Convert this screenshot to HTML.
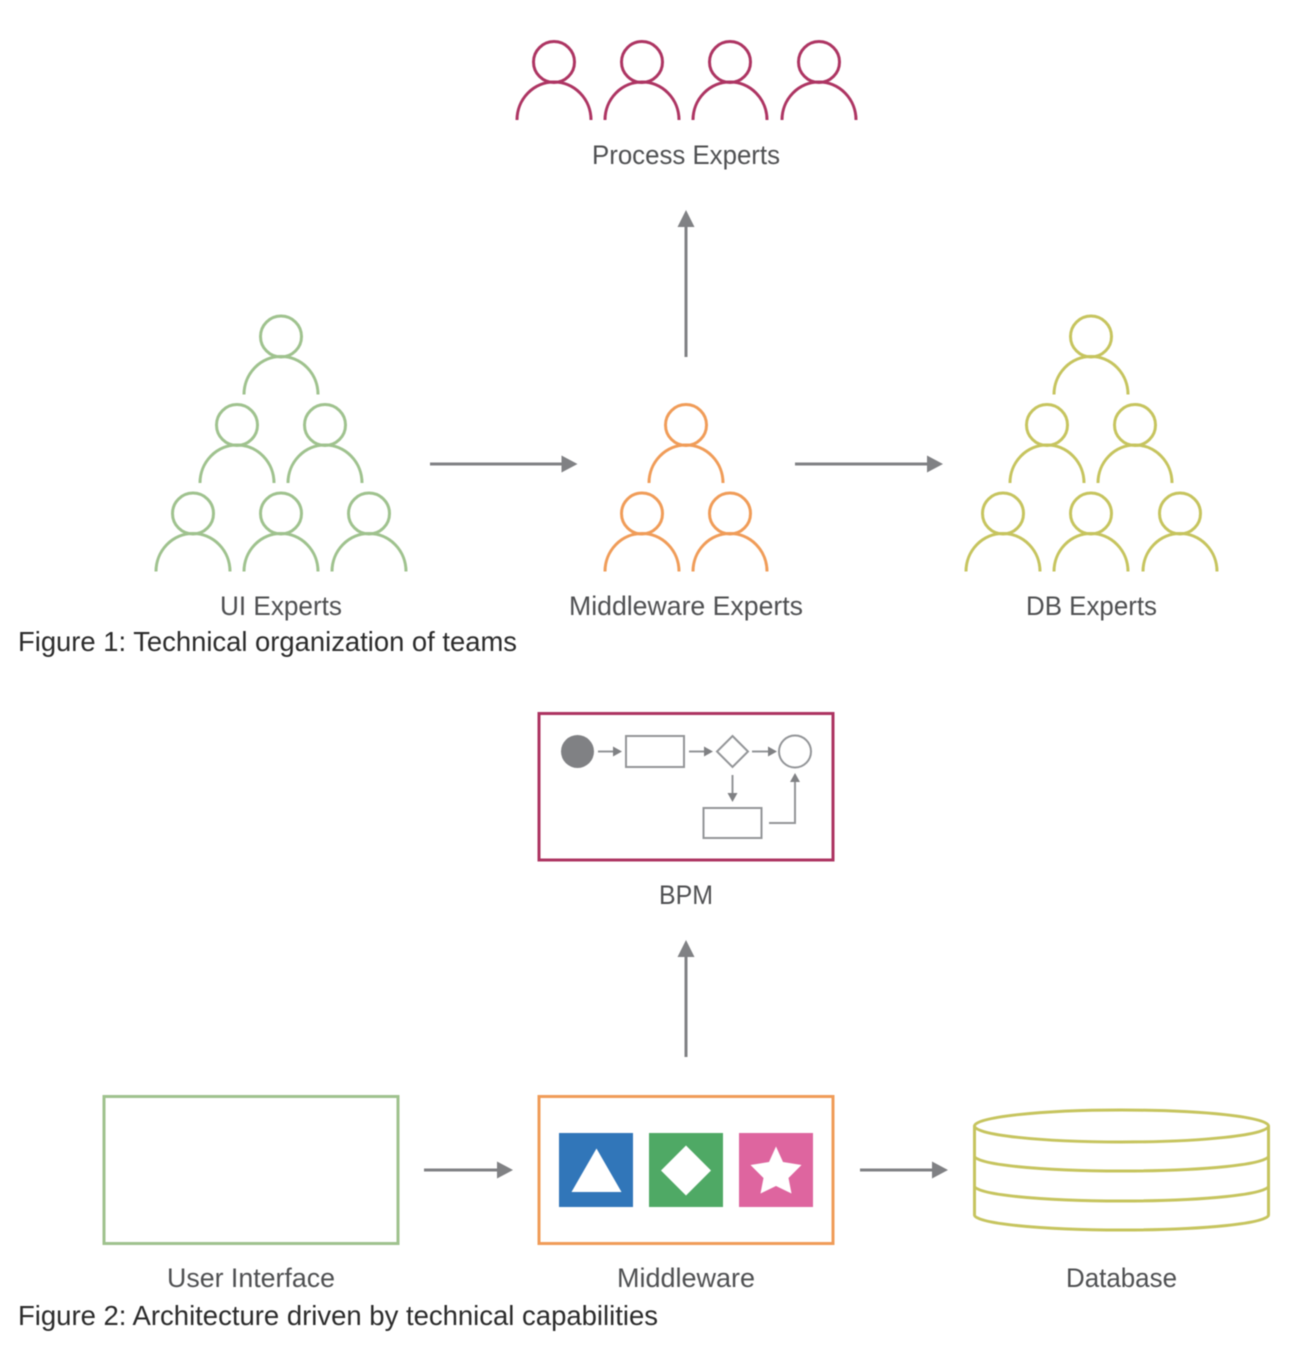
<!DOCTYPE html>
<html><head><meta charset="utf-8"><style>
html,body{margin:0;padding:0;background:#fff}
svg{display:block;filter:blur(.5px)}
text{font-family:"Liberation Sans",sans-serif;font-size:26.5px;fill:#4f5052}
.c{fill:#2b2b2b;font-size:27.5px}
</style></head><body>
<svg width="1292" height="1350" viewBox="0 0 1292 1350" xmlns="http://www.w3.org/2000/svg">
<defs>
<g id="p" fill="none" stroke-width="3"><circle cx="0" cy="0" r="20.5"/><path d="M-37 58A37 38 0 0 1 37 58"/></g>
</defs>
<g stroke="#ad3462"><use href="#p" x="554" y="62"/><use href="#p" x="642" y="62"/><use href="#p" x="730" y="62"/><use href="#p" x="819" y="62"/></g>
<g stroke="#9fc28e"><use href="#p" x="281" y="336.500"/><use href="#p" x="237" y="425"/><use href="#p" x="325" y="425"/><use href="#p" x="193" y="513.500"/><use href="#p" x="281" y="513.500"/><use href="#p" x="369" y="513.500"/></g>
<g stroke="#f09c58"><use href="#p" x="686" y="425"/><use href="#p" x="642" y="513.500"/><use href="#p" x="730" y="513.500"/></g>
<g stroke="#c6c45e"><use href="#p" x="1091" y="336.500"/><use href="#p" x="1047" y="425"/><use href="#p" x="1135" y="425"/><use href="#p" x="1003" y="513.500"/><use href="#p" x="1091" y="513.500"/><use href="#p" x="1180" y="513.500"/></g>

<g stroke="#808184" stroke-width="3" fill="none">
<path d="M686 357V224M430 464H564M795 464H929M686 1057V954M424 1170H499M860 1170H934"/>
</g>
<g fill="#808184">
<path d="M686 210l-8.500 17h17zM577.500 464l-16-8.500v17zM943 464l-16-8.500v17zM686 940l-8.500 17h17zM513 1170l-16-8.500v17zM948 1170l-16-8.500v17z"/>
</g>

<text x="592" y="164" textLength="188" lengthAdjust="spacingAndGlyphs">Process Experts</text>
<text x="220" y="615" textLength="122" lengthAdjust="spacingAndGlyphs">UI Experts</text>
<text x="569" y="615" textLength="234" lengthAdjust="spacingAndGlyphs">Middleware Experts</text>
<text x="1026" y="615" textLength="131" lengthAdjust="spacingAndGlyphs">DB Experts</text>
<text class="c" x="18" y="651" textLength="499" lengthAdjust="spacingAndGlyphs">Figure 1: Technical organization of teams</text>

<rect x="539" y="713.500" width="294" height="146.500" fill="none" stroke="#ad3462" stroke-width="3"/>
<g fill="none" stroke="#939598" stroke-width="2">
<rect x="626" y="736" width="58" height="31"/>
<path d="M732.500 736l15.500 15.500-15.500 15.500-15.500-15.500z"/>
<circle cx="795" cy="751.500" r="16"/>
<rect x="703.500" y="808" width="58" height="30"/>
<path d="M598 751.500H614M689 751.500H705M752 751.500H768M732.500 775V794M769 823H795V780"/>
</g>
<circle cx="577.500" cy="751.500" r="16.500" fill="#808184"/>
<g fill="#808184"><path d="M622 751.500l-9-5v10zM713 751.500l-9-5v10zM777 751.500l-9-5v10zM732.500 802l-5-9h10zM795 773l-5 9h10z"/></g>
<text x="659" y="904" textLength="54" lengthAdjust="spacingAndGlyphs">BPM</text>

<rect x="104" y="1096.500" width="294" height="147" fill="none" stroke="#9fc28e" stroke-width="3"/>
<rect x="539" y="1096.500" width="294" height="147" fill="none" stroke="#f09c58" stroke-width="3"/>
<rect x="559" y="1133" width="74" height="74" fill="#3176b9"/>
<rect x="649" y="1133" width="74" height="74" fill="#4fa965"/>
<rect x="739" y="1133" width="74" height="74" fill="#de659f"/>
<path fill="#fff" d="M596.500 1148.500L621.500 1192H571.500zM686 1145.500L711 1170.500 686 1195.500 661 1170.500zM776 1146.500L783 1162 801.500 1165 788.500 1178 791.500 1193.500 776 1186 760.500 1193.500 763.500 1178 750.500 1165 769 1162z"/>

<g fill="none" stroke="#c6c45e" stroke-width="3">
<ellipse cx="1121.500" cy="1126" rx="147" ry="16"/>
<path d="M974.500 1126V1215A147 15 0 0 0 1268.500 1215V1126"/>
<path d="M974.500 1156A147 15 0 0 0 1268.500 1156"/>
<path d="M974.500 1186A147 15 0 0 0 1268.500 1186"/>
</g>

<text x="167" y="1287" textLength="168" lengthAdjust="spacingAndGlyphs">User Interface</text>
<text x="617" y="1287" textLength="138" lengthAdjust="spacingAndGlyphs">Middleware</text>
<text x="1066" y="1287" textLength="111" lengthAdjust="spacingAndGlyphs">Database</text>
<text class="c" x="18" y="1325" textLength="640" lengthAdjust="spacingAndGlyphs">Figure 2: Architecture driven by technical capabilities</text>
</svg>
</body></html>
